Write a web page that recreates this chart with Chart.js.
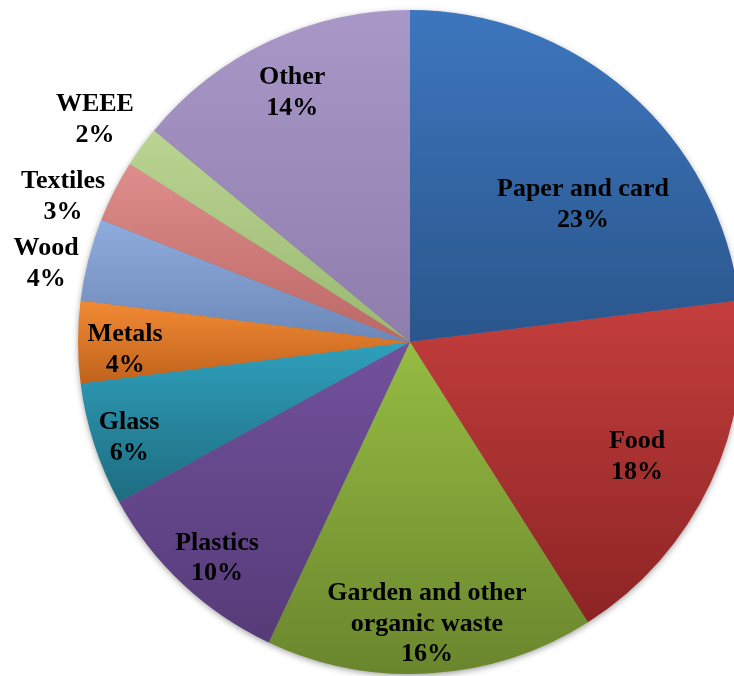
<!DOCTYPE html>
<html>
<head>
<meta charset="utf-8">
<script src="https://cdn.jsdelivr.net/npm/chart.js@4/dist/chart.umd.min.js"></script>
<style>
  html, body { margin: 0; padding: 0; background: #ffffff; overflow: hidden; width: 734px; height: 676px; }
  #wrap { position: absolute; left: 0; top: 0; width: 820px; height: 684px; }
</style>
</head>
<body>
<div id="wrap"><canvas id="chart" width="820" height="684"></canvas></div>
<script>
// Municipal waste composition (share of total, %)
const categories = [
  ['Paper and card'],
  ['Food'],
  ['Garden and other', 'organic waste'],
  ['Plastics'],
  ['Glass'],
  ['Metals'],
  ['Wood'],
  ['Textiles'],
  ['WEEE'],
  ['Other']
];
const shares = [23, 18, 16, 10, 6, 4, 4, 3, 2, 14];

// Slice fills: lighter tone at the top of each slice, darker at its bottom
const sliceTop = [
  'rgb(61,118,190)', 'rgb(196,62,61)', 'rgb(150,188,66)', 'rgb(113,81,156)', 'rgb(48,160,188)',
  'rgb(242,138,52)', 'rgb(143,172,222)', 'rgb(222,142,140)', 'rgb(186,212,146)', 'rgb(168,151,199)'
];
const sliceBottom = [
  'rgb(42,86,140)', 'rgb(140,36,36)', 'rgb(106,134,45)', 'rgb(86,59,120)', 'rgb(29,108,128)',
  'rgb(192,98,28)', 'rgb(108,136,184)', 'rgb(188,103,101)', 'rgb(154,184,113)', 'rgb(143,126,173)'
];

// Label anchor points, relative to the pie centre in units of the radius
const labelOffsets = [
  [0.521, -0.419], [0.684, 0.340], [0.051, 0.843], [-0.581, 0.645], [-0.846, 0.283],
  [-0.858, 0.018], [-1.096, -0.241], [-1.045, -0.443], [-0.949, -0.675], [-0.355, -0.756]
];

const LABEL_FONT = 'bold 26px "Liberation Serif", "Times New Roman", serif';
const LINE_HEIGHT = 30.5;

// pie geometry as the doughnut controller lays it out: centre of chart area, radius = half the short side
function pieGeometry(chart) {
  const a = chart.chartArea;
  return {
    x: (a.left + a.right) / 2,
    y: (a.top + a.bottom) / 2,
    r: Math.min(a.right - a.left, a.bottom - a.top) / 2
  };
}

// vertical extent of slice i
function sectorYRange(chart, i) {
  const { y, r } = pieGeometry(chart);
  const total = shares.reduce((s, v) => s + v, 0);
  const before = shares.slice(0, i).reduce((s, v) => s + v, 0);
  const s = -Math.PI / 2 + (before / total) * Math.PI * 2;
  const e = s + (shares[i] / total) * Math.PI * 2;
  const ys = [y, y + r * Math.sin(s), y + r * Math.sin(e)];
  [Math.PI / 2, -Math.PI / 2].forEach(base => {
    for (let k = -2; k <= 2; k++) {
      const t = base + k * Math.PI * 2;
      if (t >= s && t <= e) ys.push(y + r * Math.sin(t));
    }
  });
  return [Math.min(...ys), Math.max(...ys)];
}

function sliceFill(ctx) {
  const i = ctx.dataIndex;
  const chart = ctx.chart;
  if (!chart.chartArea) return sliceTop[i];
  const [y0, y1] = sectorYRange(chart, i);
  const g = chart.ctx.createLinearGradient(0, y0, 0, y1);
  g.addColorStop(0, sliceTop[i]);
  g.addColorStop(1, sliceBottom[i]);
  return g;
}

// soft drop shadow beneath the whole pie
const pieShadow = {
  id: 'pieShadow',
  beforeDatasetsDraw(chart) {
    const { x, y, r } = pieGeometry(chart);
    const c = chart.ctx;
    c.save();
    c.shadowColor = 'rgba(0,0,0,0.45)';
    c.shadowBlur = 7;
    c.shadowOffsetX = 0;
    c.shadowOffsetY = 2;
    c.beginPath();
    c.arc(x, y, r - 1, 0, Math.PI * 2);
    c.fillStyle = '#777777';
    c.fill();
    c.restore();
  }
};

// category name and percentage for each slice
const sliceLabels = {
  id: 'sliceLabels',
  afterDatasetsDraw(chart) {
    const meta = chart.getDatasetMeta(0);
    const c = chart.ctx;
    c.save();
    c.font = LABEL_FONT;
    c.fillStyle = '#000000';
    c.textAlign = 'center';
    c.textBaseline = 'middle';
    meta.data.forEach((arc, i) => {
      const { x, y, outerRadius } = arc.getProps(['x', 'y', 'outerRadius'], true);
      const lx = x + labelOffsets[i][0] * outerRadius;
      const ly = y + labelOffsets[i][1] * outerRadius + 2;
      const lines = categories[i].concat([shares[i] + '%']);
      const top = ly - (lines.length - 1) * LINE_HEIGHT / 2;
      lines.forEach((t, k) => c.fillText(t, lx, top + k * LINE_HEIGHT));
    });
    c.restore();
  }
};

new Chart(document.getElementById('chart'), {
  type: 'pie',
  data: {
    labels: categories.map(c => c.join(' ')),
    datasets: [{
      data: shares,
      backgroundColor: sliceFill,
      borderWidth: 0
    }]
  },
  options: {
    responsive: false,
    animation: false,
    devicePixelRatio: 1,
    layout: { padding: 10 },
    plugins: {
      legend: { display: false },
      tooltip: { enabled: false }
    }
  },
  plugins: [pieShadow, sliceLabels]
});
</script>
</body>
</html>
